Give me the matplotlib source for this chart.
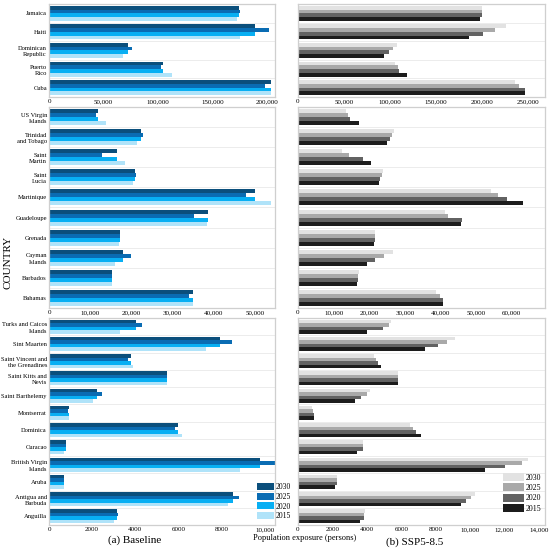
import numpy as np
import matplotlib
matplotlib.use("Agg")
import matplotlib.pyplot as plt
from matplotlib.patches import Patch
from matplotlib.ticker import FuncFormatter, MultipleLocator

plt.rcParams['font.family'] = ['Liberation Serif', 'DejaVu Serif']

years = ["2030", "2025", "2020", "2015"]
blues = ['#0b4f7c', '#0a6cb3', '#08aff3', '#b0e3f9']
greys = ['#e2e2e2', '#a9a9a9', '#626262', '#1c1c1c']

# rows of each table: 2030, 2025, 2020, 2015
top_countries = ["Jamaica", "Haiti", "Dominican\nRepublic", "Puerto\nRico", "Cuba"]
top_base = [[174000, 189000, 72000, 104000, 203000],
            [175000, 201500, 76000, 103000, 197500],
            [174000, 189000, 72000, 104000, 203000],
            [172000, 175000, 68000, 113000, 203000]]
top_ssp = [[200000, 227000, 108000, 106000, 236500],
           [200700, 215000, 104000, 109000, 241000],
           [200000, 202000, 99000, 110500, 247000],
           [198000, 186000, 94000, 118600, 247000]]

mid_countries = ["US Virgin\nIslands", "Trinidad\nand Tobago", "Saint\nMartin", "Saint\nLucia",
                 "Martinique", "Guadeloupe", "Grenada", "Cayman\nIslands", "Barbados", "Bahamas"]
mid_base = [[11900, 22200, 16500, 20800, 49900, 38500, 17100, 17900, 15300, 34800],
            [11500, 22700, 12900, 21000, 47700, 35200, 17200, 20000, 15300, 33900],
            [11900, 22200, 16500, 20800, 49900, 38500, 17100, 17900, 15300, 34800],
            [13900, 21400, 18400, 20400, 53800, 38300, 16900, 16100, 15200, 34800]]
mid_ssp = [[13400, 26800, 12300, 23800, 54100, 41300, 21700, 26600, 17000, 38800],
           [14100, 26500, 14400, 23600, 56200, 42100, 21700, 24200, 16900, 39900],
           [14600, 25800, 18300, 23100, 58700, 46000, 21500, 21700, 16800, 40800],
           [17000, 24900, 20400, 22800, 63200, 45600, 21300, 19400, 16600, 40700]]

bot_countries = ["Turks and Caicos\nIslands", "Sint Maarten", "Saint Vincent and\nthe Grenadines",
                 "Saint Kitts and\nNevis", "Saint Barthelemy", "Montserrat", "Dominica", "Curacao",
                 "British Virgin\nIslands", "Aruba", "Antigua and\nBarbuda", "Anguilla"]
bot_base = [[4030, 7920, 3780, 5480, 2230, 906, 5980, 781, 9770, 703, 8520, 3170],
            [4300, 8470, 3640, 5480, 2450, 875, 5830, 781, 10600, 703, 8780, 3200],
            [4030, 7920, 3780, 5480, 2230, 906, 5980, 781, 9770, 703, 8520, 3170],
            [3280, 7270, 3910, 5480, 2060, 938, 6170, 703, 8830, 703, 8280, 3020]]
bot_ssp = [[5390, 9140, 4390, 5830, 4190, 827, 6500, 3790, 13370, 2270, 10290, 3900],
           [5290, 8650, 4520, 5830, 3980, 885, 6670, 3750, 13040, 2270, 10060, 3810],
           [4920, 8120, 4650, 5830, 3650, 904, 6850, 3750, 12020, 2250, 9750, 3810],
           [4000, 7400, 4810, 5830, 3310, 942, 7120, 3400, 10870, 2150, 9460, 3620]]


def fmt(v, pos):
    v = int(round(v))
    return f"{v:,}" if v >= 10000 else f"{v}"


def panel(rect, countries, data, colors, xmax, step, labels=True):
    ax = fig.add_axes(rect)
    n = len(countries)
    y = np.arange(n)
    for k in range(4):
        ax.barh(y - 0.3 + 0.2 * k, data[k], height=0.2, color=colors[k], zorder=2)
    for i in range(n - 1):
        ax.axhline(i + 0.5, color='#e9e9e9', lw=0.6, zorder=1)
    ax.set_ylim(n - 0.5, -0.5)
    ax.set_xlim(0, xmax)
    ax.xaxis.set_major_locator(MultipleLocator(step))
    ax.xaxis.set_major_formatter(FuncFormatter(fmt))
    ax.set_yticks(y)
    if labels:
        ax.set_yticklabels(countries, fontsize=4.7, linespacing=1.35)
    else:
        ax.set_yticklabels([])
    ax.tick_params(axis='y', length=0, pad=1.5)
    ax.tick_params(axis='x', length=0, pad=1.5, labelsize=5)
    for s in ax.spines.values():
        s.set_color('#cfcfcf')
        s.set_linewidth(0.9)
    return ax


fig = plt.figure(figsize=(5.5, 5.5), dpi=100)

L = [49 / 550, 226 / 550]
R = [298 / 550, 247 / 550]
rows = [(1 - 97 / 550, 93 / 550), (1 - 308 / 550, 201 / 550), (1 - 525 / 550, 207 / 550)]

panel([L[0], rows[0][0], L[1], rows[0][1]], top_countries, top_base, blues, 207000, 50000)
panel([R[0], rows[0][0], R[1], rows[0][1]], top_countries, top_ssp, greys, 269000, 50000, False)
panel([L[0], rows[1][0], L[1], rows[1][1]], mid_countries, mid_base, blues, 54800, 10000)
panel([R[0], rows[1][0], R[1], rows[1][1]], mid_countries, mid_ssp, greys, 69300, 10000, False)
panel([L[0], rows[2][0], L[1], rows[2][1]], bot_countries, bot_base, blues, 10470, 2000)
panel([R[0], rows[2][0], R[1], rows[2][1]], bot_countries, bot_ssp, greys, 14350, 2000, False)

fig.legend([Patch(facecolor=c) for c in blues], years, loc='upper left',
           bbox_to_anchor=(257 / 550, 1 - 483 / 550), bbox_transform=fig.transFigure,
           frameon=False, fontsize=5.5, handlelength=2.2, handleheight=1.05,
           labelspacing=0.2, handletextpad=0.3, borderpad=0, borderaxespad=0)
fig.legend([Patch(facecolor=c) for c in greys], years, loc='upper left',
           bbox_to_anchor=(503 / 550, 1 - 473 / 550), bbox_transform=fig.transFigure,
           frameon=False, fontsize=5.7, handlelength=2.6, handleheight=1.2,
           labelspacing=0.2, handletextpad=0.3, borderpad=0, borderaxespad=0)

fig.text(135 / 550, 1 - 540 / 550, "(a) Baseline", ha='center', va='center', fontsize=8)
fig.text(415 / 550, 1 - 542 / 550, "(b) SSP5-8.5", ha='center', va='center', fontsize=8)
fig.text(305 / 550, 1 - 538 / 550, "Population exposure (persons)", ha='center', va='center', fontsize=6)
fig.text(8 / 550, 1 - 262 / 550, "COUNTRY", ha='center', va='center', rotation=90, fontsize=8)

fig.savefig("out.png", dpi=100)
